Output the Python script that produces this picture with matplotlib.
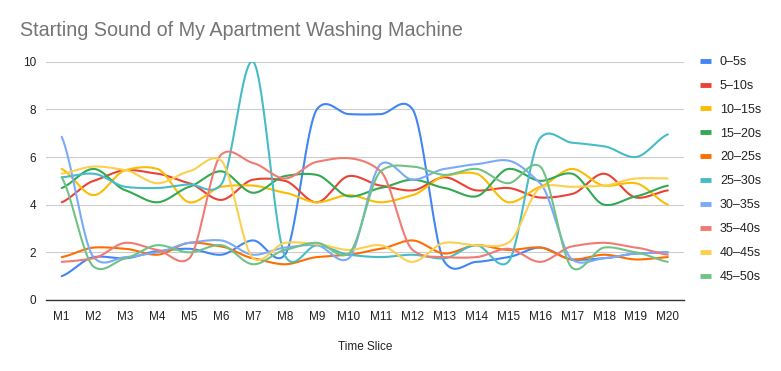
import numpy as np
import matplotlib
matplotlib.use("Agg")
import matplotlib.pyplot as plt

categories = [f"M{i}" for i in range(1, 21)]
series_names = ["0–5s", "5–10s", "10–15s", "15–20s", "20–25s",
                "25–30s", "30–35s", "35–40s", "40–45s", "45–50s"]

s0_5 = [1.0, 1.8, 1.75, 2.05, 2.15, 1.9, 2.5, 1.9, 8.0, 7.8, 7.8, 8.0, 1.6, 1.6, 1.8, 2.2, 1.7, 1.75, 1.95, 2.0]
s5_10 = [4.1, 5.0, 5.45, 5.3, 4.9, 4.2, 5.05, 5.0, 4.1, 5.2, 4.8, 4.6, 5.15, 4.6, 4.7, 4.3, 4.45, 5.3, 4.3, 4.6]
s10_15 = [5.5, 4.4, 5.45, 5.5, 4.1, 4.75, 4.8, 4.5, 4.1, 4.4, 4.1, 4.4, 5.2, 5.3, 4.1, 4.75, 5.5, 4.8, 4.9, 4.0]
s15_20 = [4.7, 5.5, 4.6, 4.1, 4.75, 5.4, 4.5, 5.2, 5.25, 4.35, 4.7, 5.05, 4.7, 4.35, 5.5, 5.0, 5.3, 4.0, 4.35, 4.8]
s20_25 = [1.8, 2.2, 2.15, 1.9, 2.4, 2.25, 1.75, 1.5, 1.8, 1.9, 2.15, 2.5, 1.95, 2.3, 2.1, 2.2, 1.7, 1.9, 1.7, 1.8]
s25_30 = [5.15, 5.3, 4.75, 4.7, 4.85, 4.85, 10.0, 1.85, 2.3, 1.9, 1.8, 1.9, 1.75, 2.3, 1.6, 6.8, 6.6, 6.45, 6.0, 6.95]
s30_35 = [6.85, 1.8, 1.8, 2.0, 2.4, 2.5, 1.9, 2.2, 2.3, 1.75, 5.7, 5.05, 5.5, 5.7, 5.85, 4.9, 1.7, 1.75, 1.95, 2.0]
s35_40 = [1.6, 1.75, 2.4, 2.1, 1.75, 6.1, 5.75, 5.1, 5.8, 5.95, 5.4, 2.1, 1.8, 1.8, 2.15, 1.6, 2.25, 2.4, 2.2, 1.9]
s40_45 = [5.3, 5.6, 5.45, 4.9, 5.4, 5.85, 1.75, 2.4, 2.35, 2.1, 2.3, 1.6, 2.4, 2.3, 2.4, 4.7, 4.75, 4.8, 5.1, 5.1]
s45_50 = [5.15, 1.4, 1.75, 2.3, 2.0, 2.3, 1.5, 2.1, 2.4, 1.95, 5.4, 5.6, 5.25, 5.5, 4.9, 5.6, 1.35, 2.2, 2.0, 1.6]

all_series = [s0_5, s5_10, s10_15, s15_20, s20_25, s25_30, s30_35, s35_40, s40_45, s45_50]
colors = ["#4285F4", "#EA4335", "#FBBC04", "#34A853", "#FF6D01",
          "#46BDC6", "#7BAAF8", "#F07B72", "#FCD04F", "#71C287"]

plt.rcParams['font.family'] = ['Liberation Sans', 'DejaVu Sans']


def smooth(xs, ys, n=40, k=0.3):
    xs = np.asarray(xs, float)
    ys = np.asarray(ys, float)
    N = len(xs)
    m = np.zeros(N)
    for i in range(N):
        a = ys[max(i - 1, 0)]
        b = ys[min(i + 1, N - 1)]
        m[i] = k * (b - a) * (2 if i in (0, N - 1) else 1)
    outx, outy = [], []
    t = np.linspace(0, 1, n, endpoint=False)
    h00 = 2 * t**3 - 3 * t**2 + 1
    h10 = t**3 - 2 * t**2 + t
    h01 = -2 * t**3 + 3 * t**2
    h11 = t**3 - t**2
    for i in range(N - 1):
        outx.append(xs[i] + t * (xs[i + 1] - xs[i]))
        outy.append(h00 * ys[i] + h10 * m[i] + h01 * ys[i + 1] + h11 * m[i + 1])
    outx.append([xs[-1]])
    outy.append([ys[-1]])
    return np.concatenate(outx), np.concatenate(outy)


fig = plt.figure(figsize=(7.81, 3.71), dpi=100)
W, H = 781, 371
left, right, top, bottom = 45.75, 683.75, 61.7, 300
ax = fig.add_axes([left / W, 1 - bottom / H, (right - left) / W, (bottom - top) / H])

xpos = np.arange(1, len(categories) + 1)
for name, vals, c in zip(series_names, all_series, colors):
    sx, sy = smooth(xpos, vals)
    ax.plot(sx, sy, color=c, lw=1.5, label=name, solid_capstyle='round')

ax.set_xlim(0.5, len(categories) + 0.5)
ax.set_ylim(0, 10)
ax.set_xticks(xpos)
ax.set_xticklabels(categories)
ax.set_yticks([0, 2, 4, 6, 8, 10])
ax.grid(axis='y', color='#cccccc', lw=0.8)
ax.set_axisbelow(True)
for s in ['top', 'right', 'left']:
    ax.spines[s].set_visible(False)
ax.spines['bottom'].set_color('#333333')
ax.spines['bottom'].set_linewidth(1.0)
ax.tick_params(axis='both', length=0, labelsize=8.5, colors='#222222')
ax.tick_params(axis='x', pad=8)
ax.tick_params(axis='y', pad=7)
ax.set_xlabel("Time Slice", fontsize=8.5, color='#222222', labelpad=13)

fig.text(20 / W, 1 - 31 / H, "Starting Sound of My Apartment Washing Machine",
         fontsize=14.2, color='#757575', va='center', ha='left')

leg = ax.legend(loc='upper left', bbox_to_anchor=(700 / W, 1 - 56 / H),
                bbox_transform=fig.transFigure, frameon=False,
                fontsize=9, handlelength=0.9, handletextpad=0.7,
                labelspacing=0.95, borderaxespad=0, borderpad=0)
for h in leg.get_lines():
    h.set_linewidth(3.5)
    h.set_solid_capstyle('butt')
for t in leg.get_texts():
    t.set_color('#222222')

fig.savefig("out.png", dpi=100)
